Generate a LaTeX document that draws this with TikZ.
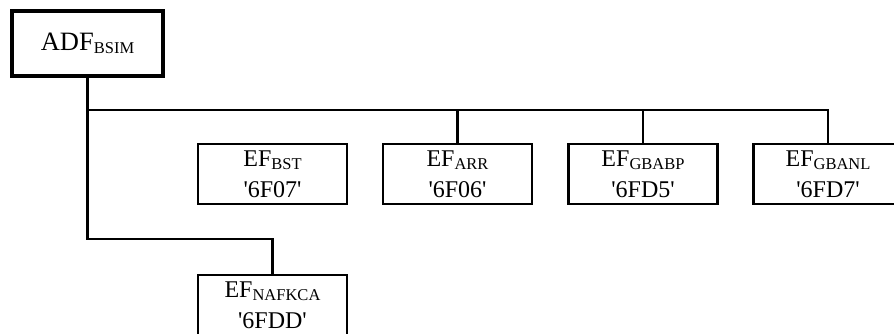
\documentclass[tikz,border=0pt]{standalone}
\usepackage{fontspec}
\setmainfont{Liberation Serif}
\tikzset{
  efbox/.style={draw, line width=2.5bp, minimum width=149bp, minimum height=60bp,
    inner sep=0pt, align=center, font=\fontsize{24bp}{31bp}\selectfont},
  adfbox/.style={draw, line width=4.5bp, minimum width=151bp, minimum height=65bp,
    inner sep=0pt, font=\fontsize{26.5bp}{30bp}\selectfont},
  link/.style={line width=2.5bp}
}
\newcommand{\lowpart}[1]{\raisebox{-3.5bp}{\fontsize{16.5bp}{17bp}\selectfont #1}}
\newcommand{\efid}[2]{EF\lowpart{#1}\\\textquotesingle #2\textquotesingle}

\begin{document}
\begin{tikzpicture}[x=1bp,y=1bp]
\useasboundingbox (0,0) rectangle (894,333);
\node[adfbox] (adf) at (87.5,289.5) {ADF\lowpart{BSIM}};
\node[efbox] (bst) at (272.5,159) {\efid{BST}{6F07}};
\node[efbox] (arr) at (457.5,159) {\efid{ARR}{6F06}};
\node[efbox] (gbabp) at (643,159) {\efid{GBABP}{6FD5}};
\node[efbox] (gbanl) at (828,159) {\efid{GBANL}{6FD7}};
\node[efbox] (nafkca) at (272.5,28) {\efid{NAFKCA}{6FDD}};
\coordinate (split) at (87.5,223);
\coordinate (knee) at (87.5,94);
\draw[link] (adf.south) -- (knee) -| (nafkca.north);
\draw[link] (split) -| (gbanl.north);
\draw[link] (split -| arr.north) -- (arr.north);
\draw[link] (split -| gbabp.north) -- (gbabp.north);
\end{tikzpicture}
\end{document}
